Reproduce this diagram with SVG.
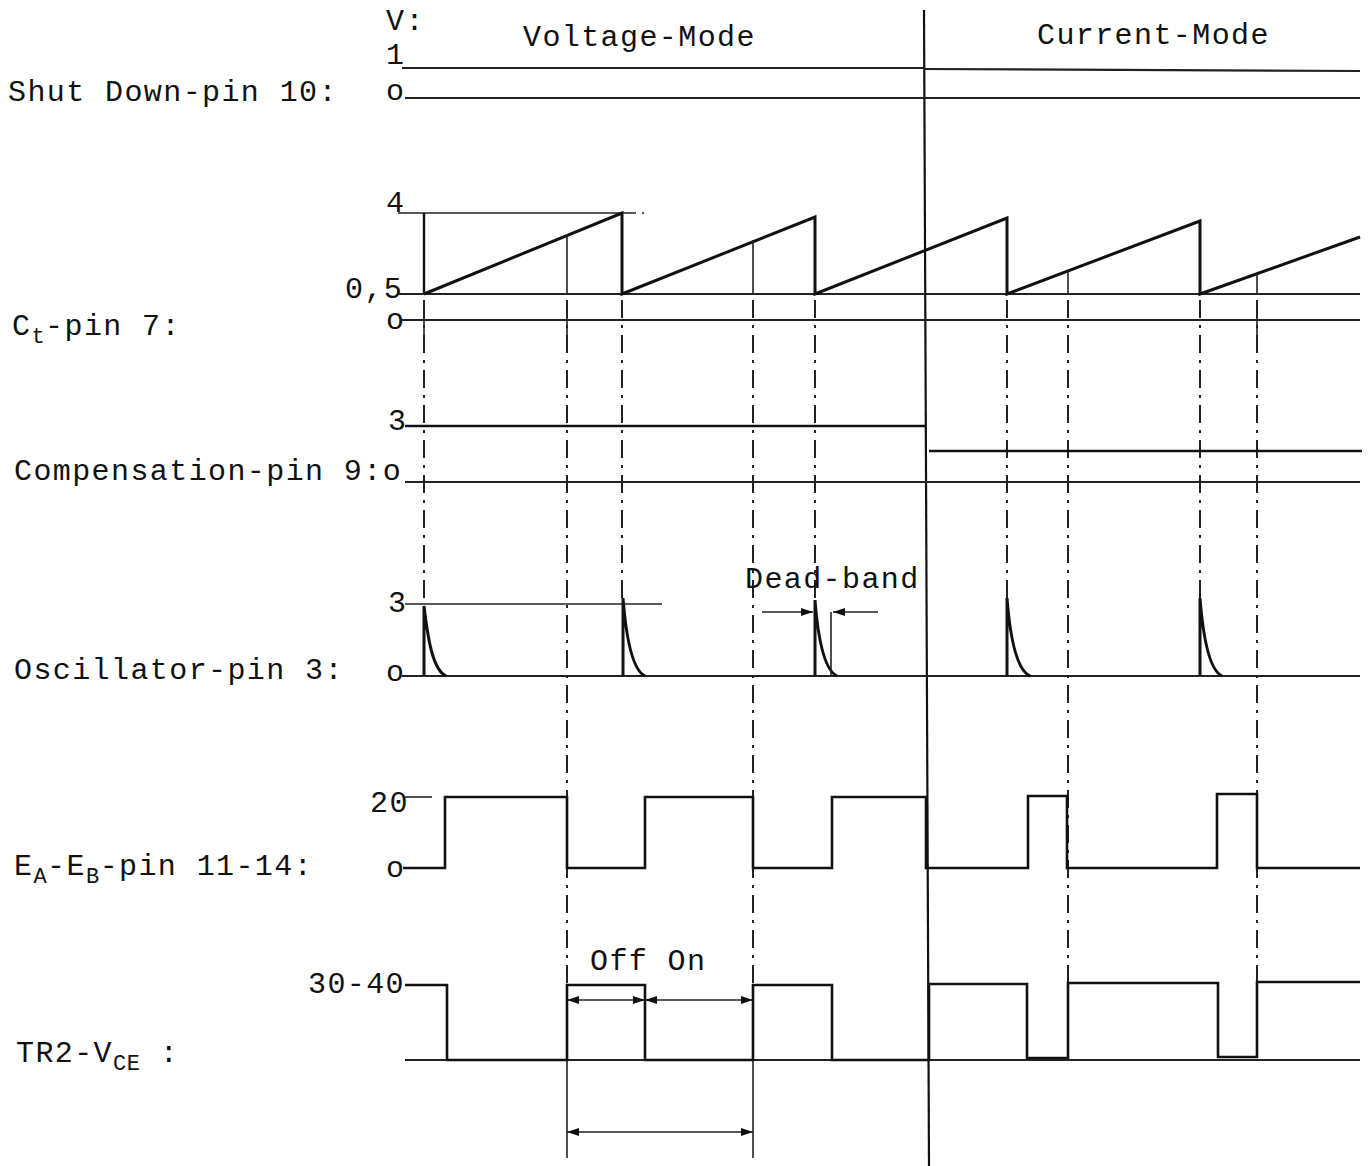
<svg xmlns="http://www.w3.org/2000/svg" width="1372" height="1166" viewBox="0 0 1372 1166">
<style>
text{font-family:"Liberation Mono","DejaVu Sans Mono",monospace;font-size:30px;letter-spacing:1.4px;fill:#111}
.sub{font-size:22px;letter-spacing:0.5px}
.w{stroke:#111;stroke-width:3;fill:none;stroke-linejoin:miter}
.t{stroke:#222;stroke-width:1.6;fill:none}
.d{stroke:#222;stroke-width:2;fill:none;stroke-dasharray:18 7 3 7}
.div{stroke:#111;stroke-width:2.2;fill:none}
.a{stroke:#222;stroke-width:1.6;fill:none;marker-end:url(#ah)}
.a2{stroke:#222;stroke-width:1.6;fill:none;marker-end:url(#ah);marker-start:url(#ah)}
</style>
<defs>
<marker id="ah" viewBox="0 0 12 8" refX="12" refY="4" markerWidth="12" markerHeight="8" markerUnits="userSpaceOnUse" orient="auto-start-reverse">
<path d="M0,0 L12,4 L0,8 Z" fill="#111"/>
</marker>
</defs>
<rect width="1372" height="1166" fill="#fff"/>

<g id="header">
<text x="386" y="30">V:</text>
<text x="386" y="64">1</text>
<text x="523" y="46">Voltage-Mode</text>
<text x="1037" y="44">Current-Mode</text>
<line class="div" x1="924" y1="10" x2="929" y2="1166"/>
</g>

<g id="shutdown">
<text x="8" y="101">Shut Down-pin 10:</text>
<text x="386" y="100">o</text>
<line class="t" x1="402" y1="68" x2="924" y2="68" style="stroke-width:2.2"/>
<line class="t" x1="924" y1="69" x2="1360" y2="71" style="stroke-width:2.2"/>
<line class="t" x1="405" y1="98" x2="1360" y2="98" style="stroke-width:2.2"/>
</g>

<g id="ct">
<text x="12" y="335">C<tspan class="sub" dy="8">t</tspan><tspan dy="-8">-pin 7:</tspan></text>
<text x="386" y="212">4</text>
<text x="345" y="298">0,5</text>
<text x="386" y="329">o</text>
<line class="t" x1="398" y1="213" x2="622" y2="213"/>
<line class="t" x1="622" y1="213" x2="650" y2="213" stroke-dasharray="14 6 2 6"/>
<line class="t" x1="398" y1="294" x2="1360" y2="294" style="stroke-width:1.8"/>
<line class="t" x1="400" y1="320" x2="1360" y2="320" style="stroke-width:1.8"/>
<line class="w" x1="424" y1="213" x2="424" y2="294" style="stroke-width:2.4"/>
<path class="w" d="M424,294 L622,213 L622,294 L815,217 L815,294 L1007,218 L1007,294 L1200,221 L1200,294 L1360,237"/>
<line class="t" x1="567" y1="235" x2="567" y2="294"/>
<line class="t" x1="753" y1="240" x2="753" y2="294"/>
<line class="t" x1="1068" y1="270" x2="1068" y2="294"/>
<line class="t" x1="1257" y1="274" x2="1257" y2="294"/>
<line class="t" x1="424" y1="310" x2="424" y2="345"/>
<line class="t" x1="567" y1="310" x2="567" y2="345"/>
<line class="t" x1="1257" y1="300" x2="1257" y2="335"/>
</g>

<g id="timing-lines">
<line class="d" x1="424" y1="300" x2="424" y2="598"/>
<line class="d" x1="567" y1="300" x2="567" y2="985"/>
<line class="d" x1="622" y1="300" x2="622" y2="598"/>
<line class="d" x1="753" y1="300" x2="753" y2="985"/>
<line class="d" x1="815" y1="300" x2="815" y2="600"/>
<line class="d" x1="1007" y1="300" x2="1007" y2="598"/>
<line class="d" x1="1068" y1="300" x2="1068" y2="985"/>
<line class="d" x1="1200" y1="300" x2="1200" y2="598"/>
<line class="d" x1="1257" y1="300" x2="1257" y2="985"/>
<line class="t" x1="567" y1="985" x2="567" y2="1158"/>
<line class="t" x1="753" y1="985" x2="753" y2="1158"/>
</g>

<g id="compensation">
<text x="14" y="480">Compensation-pin 9:o</text>
<text x="388" y="430">3</text>
<line class="w" x1="405" y1="426" x2="925" y2="426" style="stroke-width:2.4"/>
<line class="w" x1="929" y1="451" x2="1362" y2="451" style="stroke-width:2.4"/>
<line class="t" x1="405" y1="482" x2="1360" y2="482" style="stroke-width:2"/>
</g>

<g id="oscillator">
<text x="14" y="679">Oscillator-pin 3:</text>
<text x="388" y="612">3</text>
<text x="386" y="681">o</text>
<line class="t" x1="405" y1="604" x2="662" y2="604"/>
<line class="t" x1="402" y1="676" x2="1360" y2="676" style="stroke-width:2"/>
<path class="w" d="M424,676 L424,606 C428,640 433,670 446,676"/>
<path class="w" d="M623,676 L623,598 C626,636 632,670 645,676"/>
<path class="w" d="M815,676 L815,600 C818,638 824,670 837,676"/>
<path class="w" d="M1007,676 L1007,598 C1010,636 1016,670 1030,676"/>
<path class="w" d="M1200,676 L1200,598 C1203,636 1209,670 1222,676"/>
<line class="t" x1="831" y1="612" x2="831" y2="676"/>
<text x="745" y="588">Dead-band</text>
</g>

<g id="ea-eb">
<text x="14" y="875">E<tspan class="sub" dy="8">A</tspan><tspan dy="-8">-E</tspan><tspan class="sub" dy="8">B</tspan><tspan dy="-8">-pin 11-14:</tspan></text>
<text x="370" y="812">20</text>
<text x="386" y="877">o</text>
<line class="t" x1="405" y1="797" x2="432" y2="797"/>
<path class="w" d="M403,868 L445,868 L445,797 L567,797 L567,868 L645,868 L645,797 L753,797 L753,868 L832,868 L832,797 L926,797 L926,868 L1028,868 L1028,796 L1067,796 L1067,868 L1217,868 L1217,794 L1257,794 L1257,868 L1360,868" style="stroke-width:2.6"/>
</g>

<g id="tr2">
<text x="16" y="1062">TR2-V<tspan class="sub" dy="8">CE</tspan><tspan dy="-8"> :</tspan></text>
<text x="308" y="993">30-40</text>
<line class="t" x1="405" y1="1060" x2="1360" y2="1060" style="stroke-width:2"/>
<path class="w" d="M405,985 L447,985 L447,1060 L567,1060 L567,985 L645,985 L645,1060 L753,1060 L753,985 L832,985 L832,1060 L929,1060 L929,984 L1027,984 L1027,1058 L1068,1058 L1068,983 L1218,983 L1218,1057 L1257,1057 L1257,982 L1360,982" style="stroke-width:2.6"/>
<text x="590" y="970">Off On</text>
</g>

<g id="connectors">
<line class="a" x1="762" y1="612" x2="813" y2="612"/>
<line class="a" x1="878" y1="612" x2="833" y2="612"/>
<line class="a2" x1="567" y1="1000" x2="645" y2="1000"/>
<line class="a2" x1="645" y1="1000" x2="753" y2="1000"/>
<line class="a2" x1="567" y1="1132" x2="753" y2="1132"/>
</g>
</svg>
